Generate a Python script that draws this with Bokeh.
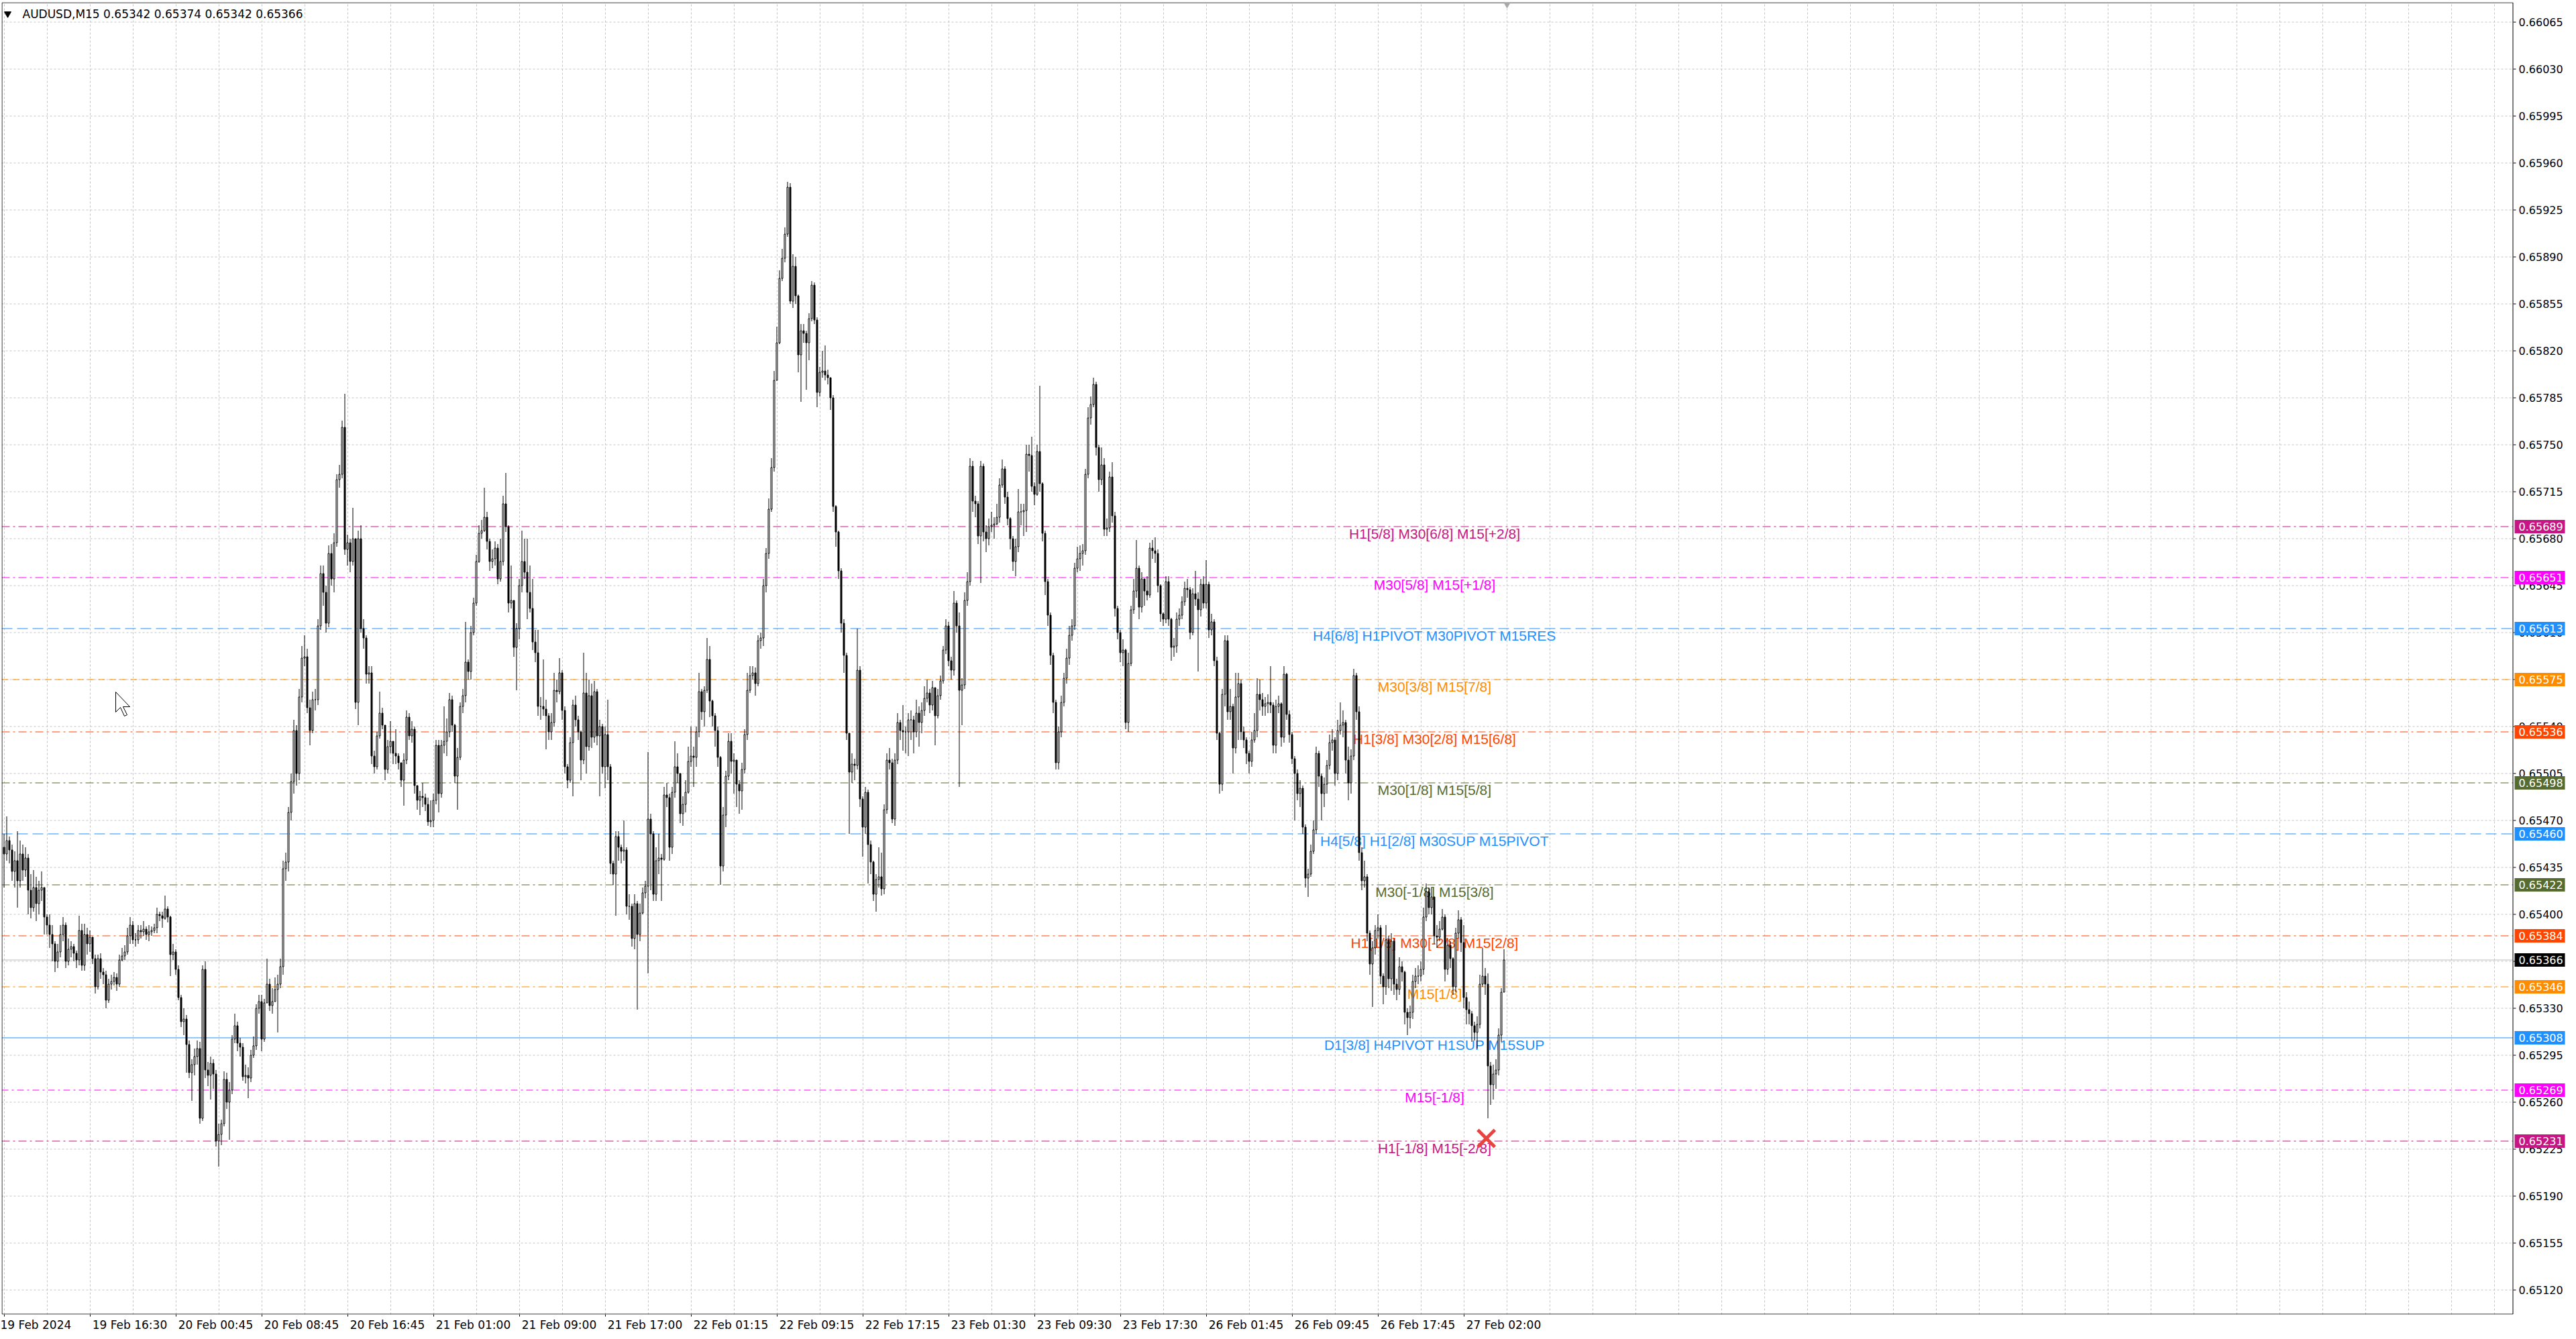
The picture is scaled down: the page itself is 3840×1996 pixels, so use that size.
import numpy as np
from bokeh.plotting import figure
from bokeh.models import Range1d, FixedTicker, Label
from bokeh.core.properties import value
from bokeh.embed import file_html
from bokeh.resources import INLINE

# ---------------- data (prices in points of 0.00001) ----------------
chart_title = "AUDUSD,M15  0.65342 0.65374 0.65342 0.65366"
first_open = 65450

closes = [
    65445, 65455, 65448, 65432, 65440, 65425, 65445, 65433, 65442, 65418, 65405, 65420, 65408, 65418, 65420, 65398,
    65392,
    65385, 65378, 65365, 65372, 65385, 65392, 65365, 65374, 65376, 65371, 65366, 65388, 65362, 65385, 65378, 65383,
    65367, 65346, 65367, 65357, 65355, 65336, 65348, 65350, 65353, 65348, 65366, 65369, 65372, 65384, 65392, 65381,
    65381, 65388, 65387, 65389, 65385, 65387, 65388, 65390, 65400, 65399, 65397, 65404, 65398, 65370, 65372, 65359,
    65338, 65320, 65322, 65303, 65282, 65288, 65294, 65300, 65248, 65359, 65284, 65280, 65289, 65281, 65231, 65236,
    65244, 65277, 65260, 65269, 65307, 65317, 65304, 65301, 65279, 65280, 65278, 65295, 65302, 65330, 65335, 65307,
    65334, 65348, 65332, 65335, 65344, 65348, 65361, 65434, 65439, 65476, 65499, 65537, 65505, 65562, 65591, 65592,
    65554, 65537, 65560, 65560, 65615, 65654, 65640, 65617, 65669, 65650, 65677, 65724, 65728, 65763, 65672, 65677,
    65663, 65680, 65558, 65680, 65613, 65606, 65579, 65580, 65518, 65510,
    65533, 65550, 65541, 65508, 65525, 65529, 65520, 65518, 65513, 65500,
    65515, 65547, 65533, 65538, 65496, 65485, 65488, 65487, 65482, 65469,
    65470, 65485, 65526, 65490, 65526, 65529, 65536, 65560, 65541, 65503,
    65517, 65555, 65563, 65588, 65581, 65610, 65632, 65663, 65684, 65686,
    65696, 65678, 65663, 65665, 65673, 65650, 65663, 65706, 65689, 65632,
    65634, 65599, 65613, 65645, 65663, 65655, 65640, 65628, 65603, 65595,
    65555, 65555, 65553, 65548, 65536, 65543, 65567, 65566, 65580, 65552,
    65510, 65500, 65528, 65556, 65545, 65536, 65515, 65565, 65525, 65563,
    65532, 65566, 65533, 65540, 65510, 65534, 65510, 65438, 65430, 65458,
    65450, 65447, 65448, 65406, 65406, 65382, 65408, 65385, 65401, 65416,
    65421, 65471, 65460, 65415, 65440, 65442, 65441, 65489, 65487, 65450,
    65491, 65510, 65505, 65475, 65482, 65491, 65514, 65518, 65517, 65536,
    65566, 65551, 65567, 65590, 65559, 65548, 65537, 65517, 65436, 65474,
    65503, 65529, 65514, 65515, 65497, 65492, 65508, 65534, 65567, 65578,
    65580, 65572, 65604, 65606, 65645, 65669, 65702, 65733, 65798, 65826,
    65874, 65889, 65907, 65942, 65857, 65883, 65861, 65817, 65835, 65833,
    65826, 65844, 65869, 65843, 65789, 65804, 65805, 65802, 65800, 65785,
    65704, 65685, 65656, 65617, 65593, 65535, 65506, 65512, 65511, 65582,
    65486, 65465, 65491, 65452, 65439, 65415, 65426, 65428, 65419, 65478,
    65515, 65513, 65471, 65515, 65543, 65537, 65536, 65536, 65545, 65545,
    65536, 65550, 65543, 65552, 65561, 65565, 65556, 65569, 65548, 65563,
    65574, 65597, 65615, 65589, 65582, 65632, 65615, 65567, 65571, 65634,
    65648, 65734, 65708, 65706, 65682, 65734, 65685, 65680, 65689, 65690,
    65691, 65696, 65720, 65732, 65711, 65695, 65680, 65663, 65674, 65700,
    65700, 65701, 65743, 65742, 65719, 65713, 65745, 65721, 65684, 65648,
    65623, 65593, 65558, 65513, 65536, 65558, 65576, 65591, 65608, 65615,
    65658, 65665, 65669, 65671, 65728, 65770, 65780, 65795, 65748, 65724,
    65735, 65687, 65688, 65726, 65697, 65628, 65610, 65595, 65597, 65543,
    65587, 65627, 65641, 65658, 65629, 65650, 65641, 65638, 65673, 65671,
    65669, 65645, 65624, 65620, 65648, 65620, 65599, 65600, 65620, 65623,
    65633, 65643, 65642, 65610, 65639, 65635, 65627, 65646, 65632, 65646,
    65612, 65618, 65589, 65535, 65497, 65564, 65604, 65551, 65555, 65524,
    65562, 65572, 65536, 65530, 65520, 65514, 65530, 65537, 65564, 65560,
    65555, 65557, 65558, 65556, 65526, 65555, 65557, 65532, 65579, 65549,
    65534, 65516, 65505, 65490, 65494, 65465, 65427, 65430, 65447, 65463,
    65520, 65503, 65490, 65497, 65511, 65528, 65530, 65505, 65537, 65541,
    65543, 65515, 65498, 65518, 65578, 65551, 65446, 65425, 65428, 65386,
    65363, 65375, 65388, 65390, 65354, 65346, 65381, 65352, 65380, 65348,
    65344, 65361, 65357, 65327, 65323, 65327, 65350, 65354, 65354, 65359,
    65398, 65417, 65405, 65413, 65384, 65383, 65389, 65398, 65359, 65377,
    65367, 65346, 65386, 65396, 65379, 65338, 65329, 65326, 65317, 65312,
    65318, 65348, 65354, 65348, 65287, 65273, 65281, 65284, 65310, 65342,
    65366,
]

highs = [
    65460, 65473, 65458, 65452, 65447, 65462, 65455, 65452, 65450, 65445, 65430, 65433, 65428, 65425, 65432, 65420,
    65400,
    65400, 65392, 65380, 65378, 65392, 65398, 65394, 65382, 65380, 65378, 65373, 65399, 65393, 65393, 65390, 65388,
    65380, 65370, 65370, 65371, 65360, 65358, 65352, 65355, 65357, 65356, 65370, 65375, 65377, 65390, 65398, 65395,
    65386, 65392, 65392, 65395, 65391, 65392, 65391, 65393, 65405, 65402, 65402, 65414, 65406, 65399, 65378, 65374,
    65362, 65340, 65330, 65325, 65306, 65292, 65300, 65306, 65305, 65362, 65365, 65290, 65294, 65292, 65284, 65244,
    65247, 65283, 65282, 65275, 65310, 65326, 65320, 65308, 65304, 65288, 65286, 65299, 65309, 65333, 65340, 65340,
    65337, 65367, 65352, 65345, 65353, 65355, 65367, 65440, 65446, 65480, 65505, 65545, 65541, 65568, 65600, 65608,
    65598, 65560, 65566, 65568, 65620, 65660, 65660, 65645, 65675, 65676, 65684, 65728, 65735, 65768, 65788, 65683,
    65680, 65703, 65680, 65686, 65690, 65620, 65608, 65585, 65585, 65522,
    65536, 65566, 65554, 65541, 65530, 65544, 65528, 65538, 65520, 65513,
    65520, 65552, 65550, 65544, 65540, 65496, 65492, 65498, 65490, 65487,
    65485, 65490, 65530, 65530, 65530, 65555, 65546, 65565, 65563, 65542,
    65524, 65558, 65568, 65618, 65590, 65615, 65636, 65668, 65690, 65694,
    65718, 65700, 65680, 65672, 65678, 65676, 65680, 65712, 65729, 65690,
    65660, 65634, 65617, 65650, 65686, 65680, 65680, 65660, 65650, 65612,
    65612, 65562, 65590, 65560, 65550, 65550, 65580, 65575, 65591, 65582,
    65555, 65512, 65532, 65560, 65563, 65548, 65537, 65595, 65580, 65575,
    65572, 65574, 65568, 65545, 65542, 65540, 65560, 65512, 65440, 65462,
    65462, 65452, 65470, 65450, 65415, 65408, 65415, 65410, 65408, 65420,
    65425, 65521, 65475, 65462, 65450, 65460, 65445, 65495, 65498, 65490,
    65495, 65529, 65520, 65505, 65488, 65500, 65525, 65540, 65525, 65540,
    65580, 65568, 65570, 65606, 65600, 65560, 65550, 65540, 65518, 65480,
    65507, 65535, 65535, 65520, 65515, 65500, 65513, 65538, 65580, 65585,
    65585, 65584, 65608, 65610, 65650, 65673, 65710, 65740, 65805, 65838,
    65880, 65896, 65912, 65946, 65945, 65892, 65890, 65862, 65840, 65840,
    65835, 65848, 65872, 65871, 65845, 65808, 65820, 65824, 65806, 65800,
    65787, 65705, 65686, 65658, 65620, 65595, 65525, 65520, 65516, 65613,
    65585, 65488, 65495, 65493, 65455, 65440, 65430, 65450, 65446, 65482,
    65520, 65524, 65516, 65520, 65550, 65545, 65556, 65540, 65550, 65552,
    65548, 65560, 65555, 65558, 65570, 65575, 65568, 65574, 65568, 65568,
    65578, 65600, 65620, 65618, 65592, 65641, 65634, 65625, 65576, 65640,
    65655, 65740, 65738, 65712, 65708, 65738, 65736, 65690, 65695, 65700,
    65696, 65706, 65725, 65739, 65734, 65715, 65696, 65682, 65680, 65717,
    65706, 65706, 65750, 65750, 65756, 65722, 65750, 65794, 65722, 65686,
    65650, 65625, 65595, 65560, 65540, 65563, 65580, 65598, 65615, 65620,
    65662, 65674, 65675, 65676, 65732, 65778, 65786, 65800, 65797, 65750,
    65748, 65740, 65695, 65730, 65737, 65700, 65630, 65612, 65605, 65598,
    65595, 65630, 65650, 65679, 65660, 65655, 65650, 65652, 65677, 65679,
    65681, 65672, 65646, 65625, 65652, 65652, 65621, 65606, 65625, 65628,
    65637, 65648, 65650, 65644, 65643, 65656, 65640, 65650, 65652, 65664,
    65648, 65624, 65620, 65592, 65536, 65568, 65608, 65608, 65568, 65557,
    65580, 65580, 65575, 65540, 65532, 65522, 65536, 65550, 65576, 65575,
    65565, 65562, 65564, 65585, 65558, 65560, 65563, 65558, 65585, 65580,
    65552, 65536, 65518, 65508, 65500, 65496, 65467, 65434, 65452, 65470,
    65525, 65522, 65505, 65502, 65515, 65534, 65538, 65532, 65545, 65558,
    65552, 65545, 65525, 65523, 65583, 65580, 65555, 65450, 65440, 65430,
    65388, 65380, 65392, 65400, 65392, 65356, 65392, 65384, 65386, 65382,
    65352, 65368, 65365, 65358, 65330, 65332, 65355, 65360, 65362, 65365,
    65405, 65423, 65420, 65420, 65412, 65392, 65395, 65404, 65400, 65382,
    65380, 65368, 65390, 65403, 65398, 65392, 65342, 65335, 65328, 65320,
    65324, 65355, 65375, 65360, 65356, 65290, 65288, 65292, 65315, 65345,
    65374,
]

lows = [
    65420, 65440, 65438, 65425, 65420, 65405, 65420, 65425, 65428, 65400, 65397, 65402, 65395, 65400, 65410, 65385,
    65385,
    65375, 65365, 65357, 65360, 65368, 65380, 65360, 65362, 65368, 65365, 65360, 65362, 65358, 65358, 65370, 65372,
    65363, 65341, 65344, 65352, 65348, 65330, 65334, 65344, 65347, 65343, 65346, 65365, 65366, 65370, 65378, 65378,
    65376, 65378, 65382, 65384, 65381, 65380, 65384, 65386, 65386, 65395, 65390, 65396, 65394, 65354, 65366, 65355,
    65336, 65316, 65310, 65282, 65278, 65261, 65280, 65288, 65244, 65246, 65278, 65272, 65262, 65270, 65227, 65212,
    65228, 65242, 65255, 65232, 65266, 65304, 65298, 65294, 65276, 65274, 65263, 65275, 65293, 65299, 65326, 65298,
    65305, 65340, 65328, 65326, 65336, 65312, 65345, 65355, 65425, 65432, 65470, 65490, 65496, 65500, 65558, 65585,
    65550, 65526, 65535, 65552, 65556, 65612, 65630, 65610, 65614, 65645, 65640, 65674, 65718, 65725, 65668, 65660,
    65655, 65660, 65553, 65541, 65610, 65598, 65572, 65572, 65512, 65505,
    65508, 65531, 65538, 65500, 65505, 65520, 65512, 65512, 65508, 65495,
    65481, 65512, 65530, 65528, 65490, 65478, 65474, 65480, 65477, 65466,
    65465, 65465, 65482, 65476, 65487, 65520, 65518, 65532, 65536, 65498,
    65478, 65515, 65550, 65558, 65575, 65575, 65608, 65630, 65662, 65680,
    65685, 65672, 65656, 65658, 65660, 65646, 65648, 65660, 65685, 65625,
    65628, 65592, 65567, 65605, 65640, 65650, 65620, 65625, 65597, 65588,
    65548, 65545, 65548, 65523, 65530, 65530, 65540, 65558, 65564, 65545,
    65505, 65494, 65498, 65488, 65540, 65530, 65500, 65512, 65505, 65522,
    65524, 65528, 65526, 65488, 65505, 65494, 65500, 65430, 65422, 65399,
    65440, 65438, 65440, 65400, 65396, 65376, 65374, 65329, 65380, 65400,
    65412, 65356, 65418, 65410, 65410, 65430, 65410, 65440, 65480, 65440,
    65445, 65487, 65498, 65468, 65466, 65476, 65490, 65510, 65495, 65510,
    65532, 65545, 65540, 65565, 65547, 65540, 65525, 65510, 65422, 65432,
    65465, 65500, 65505, 65490, 65480, 65475, 65478, 65505, 65530, 65565,
    65575, 65563, 65570, 65598, 65600, 65640, 65665, 65700, 65730, 65798,
    65825, 65872, 65886, 65905, 65855, 65852, 65855, 65804, 65782, 65826,
    65791, 65813, 65842, 65840, 65778, 65786, 65800, 65798, 65795, 65776,
    65700, 65674, 65650, 65610, 65580, 65530, 65460, 65498, 65500, 65508,
    65480, 65443, 65460, 65423, 65430, 65410, 65402, 65420, 65414, 65415,
    65475, 65508, 65468, 65466, 65512, 65530, 65522, 65520, 65518, 65530,
    65520, 65532, 65525, 65535, 65548, 65558, 65550, 65552, 65526, 65546,
    65560, 65572, 65594, 65585, 65575, 65578, 65610, 65495, 65541, 65568,
    65630, 65645, 65700, 65696, 65676, 65647, 65678, 65670, 65675, 65685,
    65680, 65690, 65692, 65718, 65706, 65690, 65672, 65656, 65652, 65670,
    65690, 65682, 65685, 65730, 65715, 65705, 65712, 65715, 65678, 65638,
    65615, 65586, 65550, 65508, 65508, 65532, 65555, 65572, 65586, 65604,
    65612, 65655, 65656, 65660, 65668, 65725, 65765, 65778, 65742, 65715,
    65720, 65682, 65682, 65685, 65692, 65622, 65605, 65588, 65585, 65538,
    65536, 65585, 65624, 65636, 65620, 65625, 65630, 65634, 65636, 65665,
    65662, 65640, 65618, 65615, 65617, 65615, 65589, 65592, 65595, 65615,
    65620, 65630, 65636, 65605, 65608, 65630, 65581, 65622, 65628, 65628,
    65606, 65608, 65585, 65530, 65490, 65492, 65555, 65545, 65545, 65505,
    65520, 65530, 65530, 65524, 65512, 65505, 65510, 65528, 65532, 65552,
    65548, 65548, 65550, 65550, 65520, 65520, 65550, 65525, 65528, 65545,
    65528, 65512, 65470, 65485, 65480, 65460, 65420, 65413, 65428, 65445,
    65460, 65495, 65470, 65480, 65490, 65508, 65522, 65496, 65500, 65534,
    65532, 65505, 65485, 65490, 65515, 65545, 65440, 65418, 65420, 65380,
    65355, 65331, 65370, 65382, 65348, 65333, 65340, 65345, 65343, 65340,
    65336, 65340, 65350, 65318, 65310, 65315, 65322, 65345, 65348, 65350,
    65355, 65395, 65400, 65400, 65378, 65375, 65380, 65388, 65350, 65355,
    65360, 65340, 65342, 65382, 65372, 65330, 65318, 65318, 65305, 65306,
    65300, 65315, 65346, 65340, 65248, 65258, 65262, 65270, 65280, 65305,
    65342,
]

time_tick_bars = [0, 32, 64, 96, 128, 160, 192, 224, 256, 288, 320, 352, 384, 416, 448, 480, 512, 544]
time_tick_labels = ["19 Feb 2024", "19 Feb 16:30", "20 Feb 00:45", "20 Feb 08:45", "20 Feb 16:45",
                    "21 Feb 01:00", "21 Feb 09:00", "21 Feb 17:00", "22 Feb 01:15", "22 Feb 09:15",
                    "22 Feb 17:15", "23 Feb 01:30", "23 Feb 09:30", "23 Feb 17:30", "26 Feb 01:45",
                    "26 Feb 09:45", "26 Feb 17:45", "27 Feb 02:00"]
price_ticks = [0.66065, 0.66030, 0.65995, 0.65960, 0.65925, 0.65890, 0.65855, 0.65820, 0.65785,
               0.65750, 0.65715, 0.65680, 0.65645, 0.65610, 0.65575, 0.65540, 0.65505, 0.65470,
               0.65435, 0.65400, 0.65365, 0.65330, 0.65295, 0.65260, 0.65225, 0.65190, 0.65155, 0.65120]

level_prices = [0.65689, 0.65651, 0.65613, 0.65575, 0.65536, 0.65498, 0.65460,
                0.65422, 0.65384, 0.65346, 0.65308, 0.65269, 0.65231]
level_texts = ["H1[5/8] M30[6/8] M15[+2/8]", "M30[5/8] M15[+1/8]", "H4[6/8] H1PIVOT M30PIVOT M15RES",
               "M30[3/8] M15[7/8]", "H1[3/8] M30[2/8] M15[6/8]", "M30[1/8] M15[5/8]",
               "H4[5/8] H1[2/8] M30SUP M15PIVOT", "M30[-1/8] M15[3/8]", "H1[1/8] M30[-2/8] M15[2/8]",
               "M15[1/8]", "D1[3/8] H4PIVOT H1SUP M15SUP", "M15[-1/8]", "H1[-1/8] M15[-2/8]"]
level_colors = ["#C71585", "#FF00FF", "#1E90FF", "#FF8C00", "#FF4500", "#556B2F", "#1E90FF",
                "#556B2F", "#FF4500", "#FF8C00", "#1E90FF", "#FF00FF", "#C71585"]
level_dashes = ["12 5 3 5", "12 5 3 5", "16 7", "10 6", "12 5 3 5", "12 5 3 5", "16 7",
                "12 5 3 5", "12 5 3 5", "12 5 3 5", "solid", "10 5 3 5", "12 5 3 5"]
bid_price = 0.65366
cross_bar = 552.4
cross_price = 0.65233

# ---------------- derived OHLC ----------------
point = 0.00001
n = min(len(closes), len(highs), len(lows))
c = np.array(closes[:n], dtype=float) * point
o = np.array([first_open] + closes[:n - 1], dtype=float) * point  # each bar opens at prior close
h = np.maximum(np.maximum(np.array(highs[:n], dtype=float) * point, o), c)
l = np.minimum(np.minimum(np.array(lows[:n], dtype=float) * point, o), c)
xs = np.arange(n)
body_top = np.maximum(o, c)
body_bot = np.minimum(o, c)
body_fill = ["white" if cc >= oo else "black" for oo, cc in zip(o, c)]

# ---------------- layout constants ----------------
LEFT, TOP = 2, 3                  # frame origin on the canvas
FW, FH = 3822, 1956               # frame size (chart + price scale column)
CHART_RIGHT = 3745.5              # right border of the chart area (pixels)
PX_BAR = 4.0                      # pixels per bar
PX_PRICE = 200000.0               # pixels per price unit
X0 = -(5.5 - LEFT) / PX_BAR
X1 = X0 + FW / PX_BAR
Y1 = 0.654 + (1362.5 - TOP) / PX_PRICE
Y0 = Y1 - FH / PX_PRICE


def ax(px):
    return X0 + (px - LEFT) / PX_BAR


def ay(py):
    return Y1 - (py - TOP) / PX_PRICE


XR = ax(CHART_RIGHT)

p = figure(frame_width=FW, frame_height=FH,
           x_range=Range1d(X0, X1), y_range=Range1d(Y0, Y1),
           y_axis_location=None, output_backend="svg", toolbar_location=None,
           min_border_left=LEFT, min_border_top=TOP, min_border_right=0, min_border_bottom=22,
           background_fill_color="white", border_fill_color="white")
p.outline_line_color = None
p.ygrid.visible = False

# time axis
p.xaxis.ticker = FixedTicker(ticks=time_tick_bars)
# terminal time labels start at their tick: pad the left half with no-break spaces
pad = "\u00a0" * 22
p.xaxis.major_label_overrides = {b: (t if b == time_tick_bars[0] else pad + t)
                                 for b, t in zip(time_tick_bars, time_tick_labels)}
xa = p.xaxis[0]
xa.axis_line_color = None
xa.major_tick_line_color = "black"
xa.major_tick_out = 3
xa.major_tick_in = 0
xa.minor_tick_line_color = None
xa.major_label_text_font = "DejaVu Sans"
xa.major_label_text_font_size = "17px"
xa.major_label_text_color = "black"
xa.major_label_standoff = 2

# vertical grid (every 16 bars)
p.xgrid.ticker = FixedTicker(ticks=[16 * k for k in range(59)])
p.xgrid.grid_line_color = "#C4C4C4"
p.xgrid.grid_line_dash = "3 3"

# horizontal grid at price ticks, up to the chart's right border
p.segment(x0=[X0] * len(price_ticks), y0=price_ticks, x1=[XR] * len(price_ticks), y1=price_ticks,
          line_color="#C4C4C4", line_dash="3 3", line_width=1)

# level lines
for lp, col, dsh in zip(level_prices, level_colors, level_dashes):
    p.segment(x0=[X0], y0=[lp], x1=[XR], y1=[lp], line_color=col, line_width=1, line_dash=dsh)
p.segment(x0=[X0], y0=[bid_price], x1=[XR], y1=[bid_price], line_color="#BDBDBD", line_width=1)

# level labels inside chart
p.text(x=[ax(2138)] * len(level_prices),
       y=[lp - 10 / PX_PRICE for lp in level_prices],
       text=level_texts, text_color=level_colors,
       text_font=value("Liberation Sans"), text_font_size="21px",
       text_align="center", text_baseline="alphabetic")

# candles
p.segment(x0=xs, y0=l, x1=xs, y1=h, line_color="black", line_width=1)
p.vbar(x=xs, width=0.5, top=body_top, bottom=body_bot,
       fill_color=body_fill, line_color="black", line_width=1)

# red cross
p.scatter(x=[cross_bar], y=[cross_price], marker="x", size=36,
          line_color="#E8433F", line_width=5)

# chart border
bx0, by_top, by_bot = ax(2.5), ay(3.5), ay(1958.5)
p.segment(x0=[bx0, bx0, XR, bx0], y0=[by_bot, by_top, by_bot, by_bot],
          x1=[bx0, XR, XR, XR], y1=[by_top, by_top, by_top, by_bot],
          line_color="black", line_width=1)

# price scale: tick marks and labels
p.segment(x0=[ax(3746)] * len(price_ticks), y0=price_ticks,
          x1=[ax(3750)] * len(price_ticks), y1=price_ticks, line_color="black", line_width=1)
p.text(x=[ax(3754)] * len(price_ticks), y=price_ticks, text=[f"{t:.5f}" for t in price_ticks],
       text_color="black", text_font=value("DejaVu Sans"), text_font_size="16px",
       text_align="left", text_baseline="middle")

# coloured price boxes for the levels and the current bid
box_prices = level_prices + [bid_price]
box_colors = level_colors + ["#000000"]
p.quad(left=[ax(3748)] * len(box_prices), right=[ax(3823)] * len(box_prices),
       top=[bp + 10 / PX_PRICE for bp in box_prices], bottom=[bp - 10 / PX_PRICE for bp in box_prices],
       fill_color=box_colors, line_color=None)
p.text(x=[ax(3754)] * len(box_prices), y=box_prices, text=[f"{bp:.5f}" for bp in box_prices],
       text_color="white", text_font=value("DejaVu Sans"), text_font_size="16px",
       text_align="left", text_baseline="middle")

# mouse pointer left on the chart (pixel outline relative to its tip)
cursor_tip = (172, 1031)
cursor_shape = [(0, 0), (0, 30), (7, 23), (13, 36), (17, 34), (11, 22), (21, 22)]
p.patch(x=[ax(cursor_tip[0] + dx) for dx, dy in cursor_shape],
        y=[ay(cursor_tip[1] + dy) for dx, dy in cursor_shape],
        fill_color="white", line_color="black", line_width=1)

# title and markers
p.scatter(x=[ax(11)], y=[ay(20)], marker="inverted_triangle",
          size=10, fill_color="black", line_color="black")
p.add_layout(Label(x=ax(33), y=ay(20), text=chart_title,
                   text_font="DejaVu Sans", text_font_size="17px", text_color="black",
                   text_baseline="middle", text_align="left"))
p.scatter(x=[ax(2246)], y=[ay(5)], marker="inverted_triangle",
          size=11, fill_color="#A8A8A8", line_color="#A8A8A8")

open("out.html", "w").write(file_html(p, INLINE))
